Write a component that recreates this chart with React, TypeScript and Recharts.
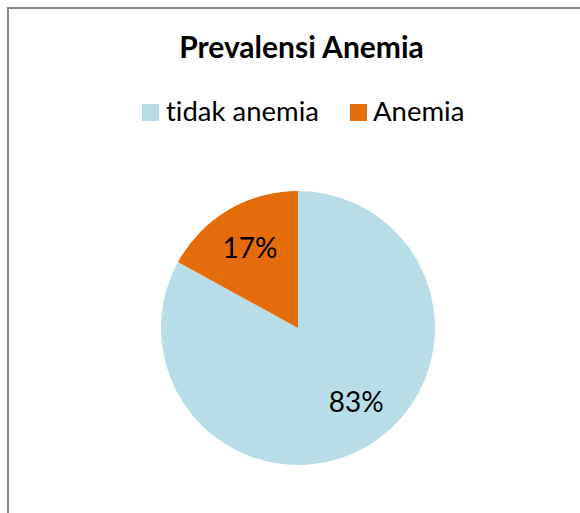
import React from "react";
import { PieChart, Pie, Cell } from "recharts";

const categories = ["tidak anemia", "Anemia"];
const values = [83, 17];
const colors = ["#B7DDE8", "#E46C0A"];
const title = "Prevalensi Anemia";

const data = categories.map((name, i) => ({ name, value: values[i] }));

const FONT = "Lato, 'Open Sans', sans-serif";
const RAD = Math.PI / 180;
// small per-slice label nudges (Excel "best fit" placement)
const labelNudge = [
  [10, -8],
  [0, 0],
];

const renderLabel = (props: any) => {
  const { cx, cy, midAngle, outerRadius, percent, index } = props;
  const r = outerRadius * 0.69;
  const x = cx + r * Math.cos(-midAngle * RAD) + labelNudge[index][0];
  const y = cy + r * Math.sin(-midAngle * RAD) + labelNudge[index][1];
  return (
    <text
      x={x}
      y={y}
      fill="#000"
      textAnchor="middle"
      dominantBaseline="central"
      style={{ fontFamily: FONT, fontSize: 28, fontVariantLigatures: "none" }}
    >
      {`${Math.round(percent * 100)}%`}
    </text>
  );
};

const legendRectX = [142, 350];
const legendTextX = [166, 373];

export default function App() {
  return (
    <div
      style={{
        position: "absolute",
        left: 0,
        top: 0,
        width: 580,
        height: 513,
        overflow: "hidden",
        background: "#fff",
      }}
    >
      <div
        style={{
          position: "absolute",
          left: 7,
          top: 7,
          width: 700,
          height: 700,
          border: "2px solid #898989",
          boxSizing: "border-box",
        }}
      />
      <div style={{ position: "absolute", left: 0, top: 0 }}>
        <PieChart width={580} height={513} margin={{ top: 0, right: 0, bottom: 0, left: 0 }}>
          <Pie
            data={data}
            dataKey="value"
            nameKey="name"
            cx={298}
            cy={328}
            outerRadius={137}
            startAngle={90}
            endAngle={-270}
            stroke="none"
            label={renderLabel}
            labelLine={false}
            isAnimationActive={false}
          >
            {data.map((d, i) => (
              <Cell key={d.name} fill={colors[i]} />
            ))}
          </Pie>
        </PieChart>
      </div>
      <svg
        width={580}
        height={513}
        style={{ position: "absolute", left: 0, top: 0, pointerEvents: "none" }}
      >
        <text
          x={301.5}
          y={58}
          textAnchor="middle"
          fill="#000"
          style={{ fontFamily: FONT, fontWeight: 700, fontSize: 30, fontVariantLigatures: "none" }}
        >
          {title}
        </text>
        {data.map((d, i) => (
          <g key={d.name}>
            <rect x={legendRectX[i]} y={104} width={17} height={17} fill={colors[i]} />
            <text
              x={legendTextX[i]}
              y={121}
              fill="#000"
              style={{ fontFamily: FONT, fontSize: 27.5, fontVariantLigatures: "none" }}
            >
              {d.name}
            </text>
          </g>
        ))}
      </svg>
    </div>
  );
}
